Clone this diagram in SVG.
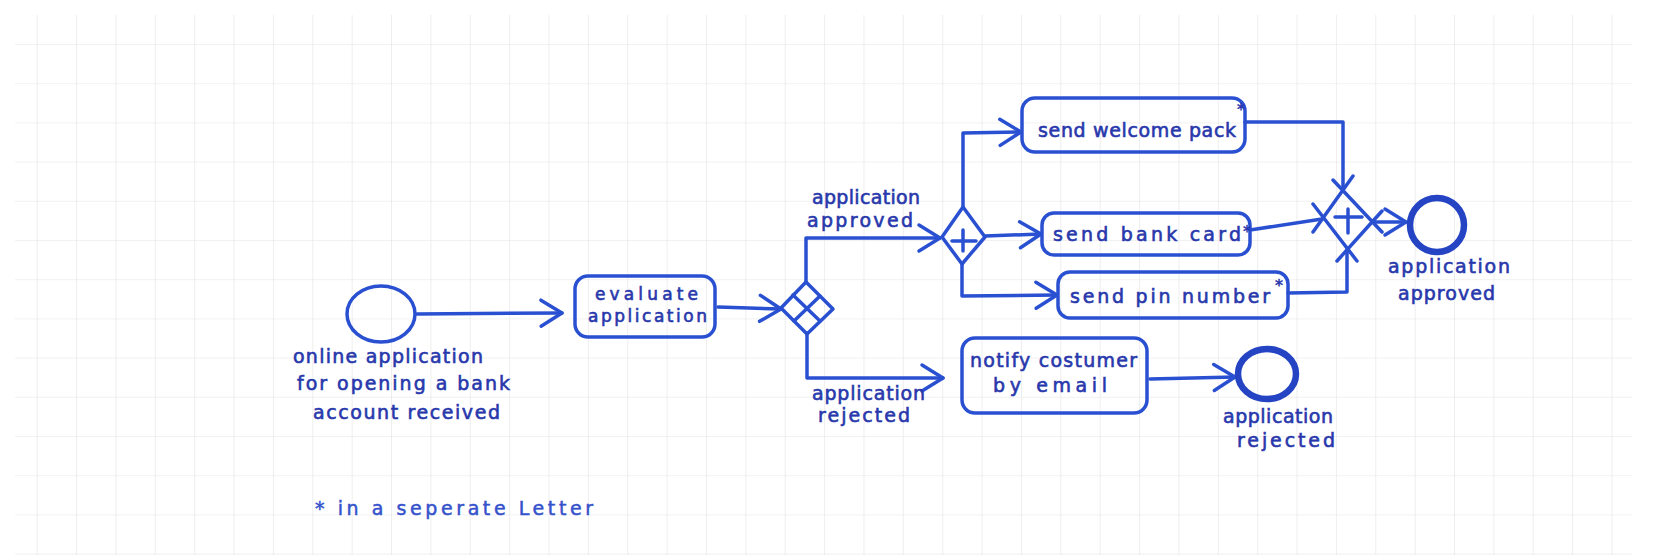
<svg xmlns="http://www.w3.org/2000/svg" width="1664" height="555" viewBox="0 0 1664 555">
  <style>
    .ln { fill: none; stroke: #2a50d2; stroke-width: 3.5; stroke-linecap: round; stroke-linejoin: round; }
    .box { fill: none; stroke: #2a50d2; stroke-width: 3.5; }
    .gw { fill: none; stroke: #2a50d2; stroke-width: 3.5; stroke-linecap: round; stroke-linejoin: round; }
    .start { fill: none; stroke: #2a50d2; stroke-width: 3.5; }
    .end { fill: none; stroke: #2444c4; stroke-width: 6.5; }
    .t { font-family: "DejaVu Sans", "Liberation Sans", sans-serif; font-size: 19px; fill: #2838ac; stroke: #2838ac; stroke-width: 0.6; }
    .ts { font-size: 17px; }
    .sup { font-family: "DejaVu Sans", sans-serif; font-size: 16px; fill: #2838ac; stroke: #2838ac; stroke-width: 0.5; }
    .note { font-family: "DejaVu Sans", "Liberation Sans", sans-serif; font-size: 19px; fill: #3552cc; stroke: #3552cc; stroke-width: 0.5; }
  </style>
  <defs>
    <pattern id="grid" patternUnits="userSpaceOnUse" x="36.7" y="44" width="39.37" height="39.2">
      <path d="M0,0 L0,39.2 M0,0 L39.37,0" fill="none" stroke="#e3e3e3" stroke-width="1.2"/>
    </pattern>
    <marker id="arr" markerUnits="userSpaceOnUse" markerWidth="40" markerHeight="40" refX="0" refY="0" orient="auto" overflow="visible">
      <path d="M-21,-13 L0,0 L-21,13" fill="none" stroke="#2a50d2" stroke-width="3.5" stroke-linecap="round" stroke-linejoin="round"/>
    </marker>
  </defs>
  <rect width="1664" height="555" fill="#ffffff"/>
  <rect x="15" y="15" width="1617" height="540" fill="url(#grid)"/>

  <g id="connectors">
    <path class="ln" d="M417,314 L562,313" marker-end="url(#arr)"/>
    <path class="ln" d="M718,307 L781,309" marker-end="url(#arr)"/>
    <path class="ln" d="M806,282 L806,238 L940,238" marker-end="url(#arr)"/>
    <path class="ln" d="M807,333 L807,378 L943,378" marker-end="url(#arr)"/>
    <path class="ln" d="M985,236 L1041,234" marker-end="url(#arr)"/>
    <path class="ln" d="M963,208 L963,133 L1021,132" marker-end="url(#arr)"/>
    <path class="ln" d="M962,264 L962,296 L1057,295" marker-end="url(#arr)"/>
    <path class="ln" d="M1245,122 L1343,122 L1343,190"/>
    <path class="ln" d="M1250,230 L1322,219"/>
    <path class="ln" d="M1288,293 L1347,292 L1347,249"/>
    <path class="ln" d="M1373,222 L1406,222" marker-end="url(#arr)"/>
    <path class="ln" d="M1150,379 L1235,377" marker-end="url(#arr)"/>
  </g>

  <g id="start-event">
    <ellipse class="start" cx="381" cy="314" rx="34" ry="28"/>
    <text class="t" x="293" y="363" textLength="190">online application</text>
    <text class="t" x="297" y="390" textLength="213">for opening a bank</text>
    <text class="t" x="313" y="419" textLength="187">account received</text>
  </g>

  <g id="evaluate-application">
    <rect class="box" x="575" y="276" width="140" height="61" rx="13"/>
    <text class="t ts" x="595" y="300" textLength="103">evaluate</text>
    <text class="t ts" x="588" y="322" textLength="119">application</text>
  </g>

  <g id="xor-gateway">
    <path class="gw" d="M806,282 L833,309 L807,334 L781,308 Z"/>
    <path class="gw" d="M793,295 L820,321 M820,296 L794,321"/>
    <text class="t" x="812" y="204" textLength="108">application</text>
    <text class="t" x="807" y="227" textLength="106">approved</text>
    <text class="t" x="812" y="400" textLength="113">application</text>
    <text class="t" x="818" y="422" textLength="92">rejected</text>
  </g>

  <g id="and-split">
    <path class="gw" d="M963,207 L985,237 L962,264 L942,237 Z"/>
    <path class="gw" d="M952,241 L976,241 M963,230 L963,251"/>
  </g>

  <g id="send-welcome-pack">
    <rect class="box" x="1022" y="98" width="223" height="54" rx="13"/>
    <text class="t" x="1038" y="137" textLength="198">send welcome pack</text>
    <text class="sup" x="1237" y="115">*</text>
  </g>

  <g id="send-bank-card">
    <rect class="box" x="1042" y="213" width="208" height="42" rx="12"/>
    <text class="t" x="1053" y="241" textLength="188">send bank card</text>
    <text class="sup" x="1243" y="237">*</text>
  </g>

  <g id="send-pin-number">
    <rect class="box" x="1058" y="272" width="230" height="46" rx="12"/>
    <text class="t" x="1070" y="303" textLength="200">send pin number</text>
    <text class="sup" x="1275" y="291">*</text>
  </g>

  <g id="and-join">
    <path class="gw" d="M1313,232 L1353,176 M1333,180 L1382,232 M1382,211 L1337,261 M1357,261 L1313,204"/>
    <path class="gw" d="M1335,217 L1362,217 M1348,209 L1348,233"/>
  </g>

  <g id="end-approved">
    <circle class="end" cx="1437" cy="225" r="27"/>
    <text class="t" x="1388" y="273" textLength="122">application</text>
    <text class="t" x="1398" y="300" textLength="97">approved</text>
  </g>

  <g id="notify-customer">
    <rect class="box" x="962" y="338" width="185" height="75" rx="13"/>
    <text class="t" x="970" y="367" textLength="167">notify costumer</text>
    <text class="t" x="993" y="392" textLength="114">by email</text>
  </g>

  <g id="end-rejected">
    <ellipse class="end" cx="1267" cy="374" rx="29" ry="25"/>
    <text class="t" x="1223" y="423" textLength="110">application</text>
    <text class="t" x="1237" y="447" textLength="98">rejected</text>
  </g>

  <text class="note" x="315" y="515" textLength="278">* in a seperate Letter</text>
</svg>
